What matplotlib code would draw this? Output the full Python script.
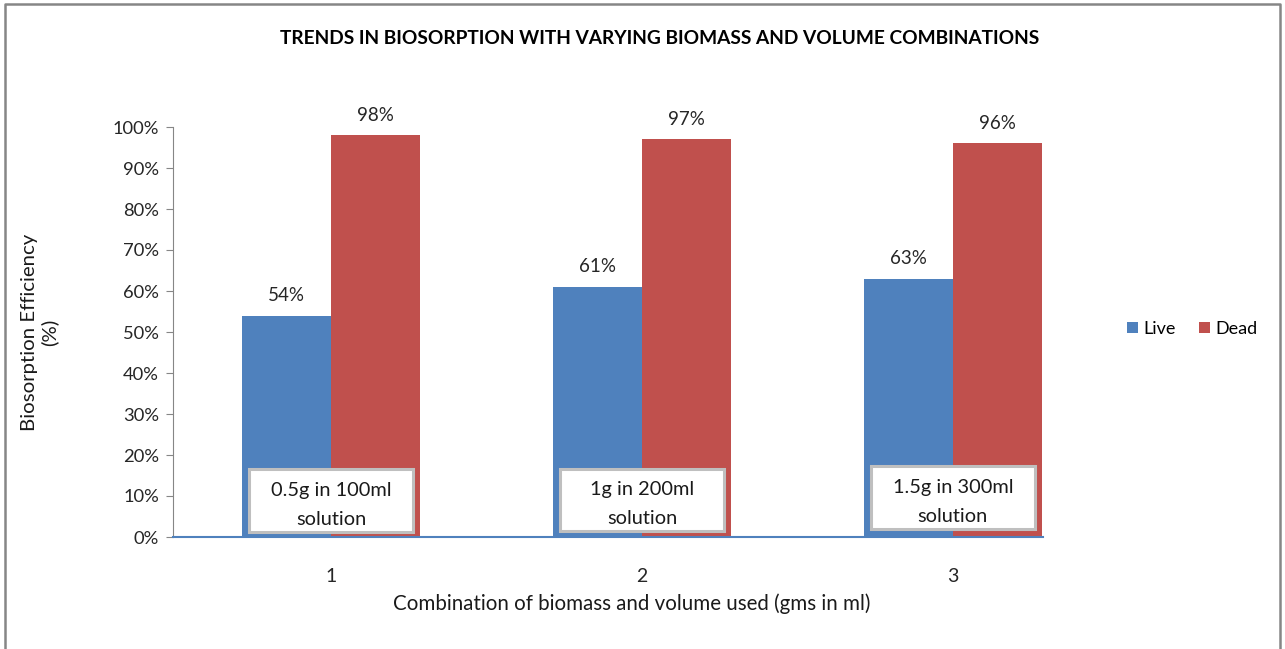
import matplotlib.pyplot as plt
from matplotlib.patches import Rectangle
from matplotlib.lines import Line2D
import numpy as np

plt.rcParams['font.family'] = ['Lato', 'DejaVu Sans']

# data
categories = ['1', '2', '3']
live = [54, 61, 63]
dead = [98, 97, 96]
box_labels = ['0.5g in 100ml\nsolution', '1g in 200ml\nsolution', '1.5g in 300ml\nsolution']

blue = '#4F81BD'
red = '#C0504D'

fig = plt.figure(figsize=(12.85, 6.49), dpi=100)
ax = fig.add_axes([173/1285, 1-537/649, (1043-173)/1285, (537-127)/649])

x = np.arange(1, len(categories)+1)
w = 0.286
ax.bar(x - w/2, live, w, color=blue, label='Live', zorder=2)
ax.bar(x + w/2, dead, w, color=red, label='Dead', zorder=2)

for xi, v in zip(x - w/2, live):
    ax.text(xi, v + 2.8, f'{v}%', ha='center', va='bottom', fontsize=13.5, color='#262626')
for xi, v in zip(x + w/2, dead):
    ax.text(xi, v + 2.8, f'{v}%', ha='center', va='bottom', fontsize=13.5, color='#262626')

# text boxes inside bars
box_y = [1.2, 1.4, 2.0]
for xi, lab, by in zip(x, box_labels, box_y):
    ax.add_patch(Rectangle((xi - 0.264, by), 0.528, 15.3, facecolor='white',
                           edgecolor='#BFBFBF', lw=2.2, zorder=3))
    ax.text(xi, by + 6.6, lab, ha='center', va='center', fontsize=14.4,
            color='#1a1a1a', linespacing=1.85, zorder=4)

ax.set_xlim(0.492, 3.29)
ax.set_ylim(0, 100)
ax.set_yticks(range(0, 101, 10))
ax.set_yticklabels([f'{t}%' for t in range(0, 101, 10)], fontsize=13.2, color='#262626')
ax.set_xticks(x)
ax.set_xticklabels(categories, fontsize=14, color='#262626')
ax.tick_params(axis='x', length=0, pad=22)
ax.tick_params(axis='y', length=5, color='#868686', pad=5)

for s in ['top', 'right']:
    ax.spines[s].set_visible(False)
ax.spines['left'].set_color('#868686')
ax.spines['bottom'].set_color(blue)
ax.spines['bottom'].set_linewidth(1.5)
ax.spines['bottom'].set_zorder(5)

fig.text(632/1285, 1-604/649, 'Combination of biomass and volume used (gms in ml)',
         ha='center', va='center', fontsize=14.8, color='#1a1a1a')
fig.text(40/1285, 1-332/649, 'Biosorption Efficiency\n(%)', rotation=90,
         ha='center', va='center', fontsize=14.7, color='#1a1a1a', linespacing=1.15)

fig.text(660/1285, 1-38/649, 'TRENDS IN BIOSORPTION WITH VARYING BIOMASS AND VOLUME COMBINATIONS',
         ha='center', va='center', fontsize=13.8, fontweight='bold', color='black')

ax.legend(loc='center left', bbox_to_anchor=(1127/1285, 1-329/649),
          bbox_transform=fig.transFigure, ncol=2, frameon=False, fontsize=13,
          borderpad=0, borderaxespad=0,
          handlelength=0.6, handleheight=0.6, handletextpad=0.3, columnspacing=1.3)

# outer chart border
fig.add_artist(Line2D([5/1285, 5/1285, 1280/1285, 1280/1285],
                      [0, 1-4/649, 1-4/649, 0], transform=fig.transFigure,
                      color='#868686', lw=1.8))

fig.savefig('out.png', dpi=100)
